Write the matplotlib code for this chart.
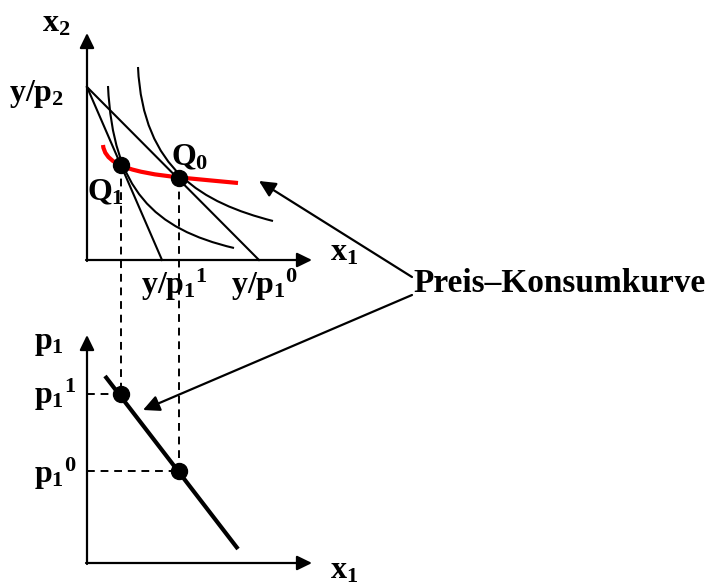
import matplotlib
matplotlib.use("Agg")
import matplotlib.pyplot as plt
from matplotlib.path import Path
from matplotlib.patches import PathPatch

plt.rcParams['font.family'] = ['Liberation Serif', 'DejaVu Serif']
plt.rcParams['font.weight'] = 'bold'
plt.rcParams['mathtext.fontset'] = 'custom'
plt.rcParams['mathtext.rm'] = 'Liberation Serif:bold'
plt.rcParams['mathtext.it'] = 'Liberation Serif:bold'
plt.rcParams['mathtext.bf'] = 'Liberation Serif:bold'

# ---- diagram data (figure pixel coordinates, y downwards) ----
origin_top = (87, 260)
origin_bot = (87, 563)
axis_top_yend = 33
axis_top_xend = 312
axis_bot_yend = 335
axis_bot_xend = 312

budget_start = (87, 87)
budget_end_1 = (162, 260)   # y/p1^1
budget_end_0 = (259, 260)   # y/p1^0

# cubic Bezier control points of the drawn curves
indiff_1_x = [108, 113, 154, 234]
indiff_1_y = [86, 190, 229, 248]
indiff_2_x = [138, 143, 203, 273]
indiff_2_y = [67, 170, 203, 221]
pkk_x = [103, 106, 168, 238]
pkk_y = [145, 175, 176, 183]

q_x = [121, 179]      # Q1, Q0
q_y = [165, 178]

demand_x = [105, 238]
demand_y = [376, 549]
p_levels = [394, 471]  # p1^1, p1^0

fig = plt.figure(figsize=(7.07, 5.85), dpi=100)
ax = fig.add_axes([0, 0, 1, 1])
ax.set_xlim(0, 707)
ax.set_ylim(585, 0)
ax.axis('off')

def arrow(x0, y0, x1, y1, lw=1.6, ms=20):
    ax.annotate('', xy=(x1, y1), xytext=(x0, y0),
                arrowprops=dict(arrowstyle='-|>,head_length=0.45,head_width=0.22',
                                lw=lw, color='black', shrinkA=0, shrinkB=0,
                                mutation_scale=ms))

def bezier(xs, ys, **kw):
    verts = list(zip(xs, ys))
    codes = [Path.MOVETO, Path.CURVE4, Path.CURVE4, Path.CURVE4]
    ax.add_patch(PathPatch(Path(verts, codes), fill=False, capstyle='butt', **kw))

# axes
arrow(origin_top[0], origin_top[1] + 1, origin_top[0], axis_top_yend)
arrow(origin_top[0] - 1, origin_top[1], axis_top_xend, origin_top[1])
arrow(origin_bot[0], origin_bot[1] + 1, origin_bot[0], axis_bot_yend)
arrow(origin_bot[0] - 1, origin_bot[1], axis_bot_xend, origin_bot[1])

# budget lines
ax.plot([budget_start[0], budget_end_1[0]], [budget_start[1], budget_end_1[1]], color='black', lw=1.5)
ax.plot([budget_start[0], budget_end_0[0]], [budget_start[1], budget_end_0[1]], color='black', lw=1.5)

# indifference curves
bezier(indiff_1_x, indiff_1_y, color='black', lw=1.5)
bezier(indiff_2_x, indiff_2_y, color='black', lw=1.5)

# dashed guides
dash = (0, (4, 3))
ax.plot([q_x[0], q_x[0]], [q_y[0], p_levels[0]], color='black', lw=1.4, ls=dash)
ax.plot([q_x[1], q_x[1]], [q_y[1], p_levels[1]], color='black', lw=1.4, ls=dash)
ax.plot([origin_bot[0], q_x[0]], [p_levels[0], p_levels[0]], color='black', lw=1.4, ls=dash)
ax.plot([origin_bot[0], q_x[1]], [p_levels[1], p_levels[1]], color='black', lw=1.4, ls=dash)

# price-consumption curve
bezier(pkk_x, pkk_y, color='#ff0000', lw=3.0)

# optimal points
ax.plot(q_x, q_y, 'o', color='black', ms=11.5, zorder=5)

# demand line
ax.plot(demand_x, demand_y, color='black', lw=3.0, solid_capstyle='butt')
ax.plot(q_x, p_levels, 'o', color='black', ms=11.5, zorder=5)

# pointer arrows
arrow(412, 277, 259, 181, lw=1.6, ms=22)
arrow(412, 295, 143, 410, lw=1.6, ms=22)

fs = 23
# labels
ax.text(42, 24, r'$x_2$', fontsize=fs, va='center', ha='left')
ax.text(9, 94, r'$y/p_2$', fontsize=fs, va='center', ha='left')
ax.text(171, 158, r'$Q_0$', fontsize=fs, va='center', ha='left')
ax.text(87, 193, r'$Q_1$', fontsize=fs, va='center', ha='left')
ax.text(330, 253, r'$x_1$', fontsize=fs, va='center', ha='left')
ax.text(141, 285, r'$y/{p_1}^1$', fontsize=fs, va='center', ha='left')
ax.text(231, 285, r'$y/{p_1}^0$', fontsize=fs, va='center', ha='left')
ax.text(34, 344, r'$p_1$', fontsize=fs, va='center', ha='left')
ax.text(34, 395, r'${p_1}^1$', fontsize=fs, va='center', ha='left')
ax.text(34, 474, r'${p_1}^0$', fontsize=fs, va='center', ha='left')
ax.text(330, 571, r'$x_1$', fontsize=fs, va='center', ha='left')
ax.text(413, 283, 'Preis–Konsumkurve', fontsize=24, fontweight='bold', va='center', ha='left')

fig.savefig('out.png', dpi=100)
